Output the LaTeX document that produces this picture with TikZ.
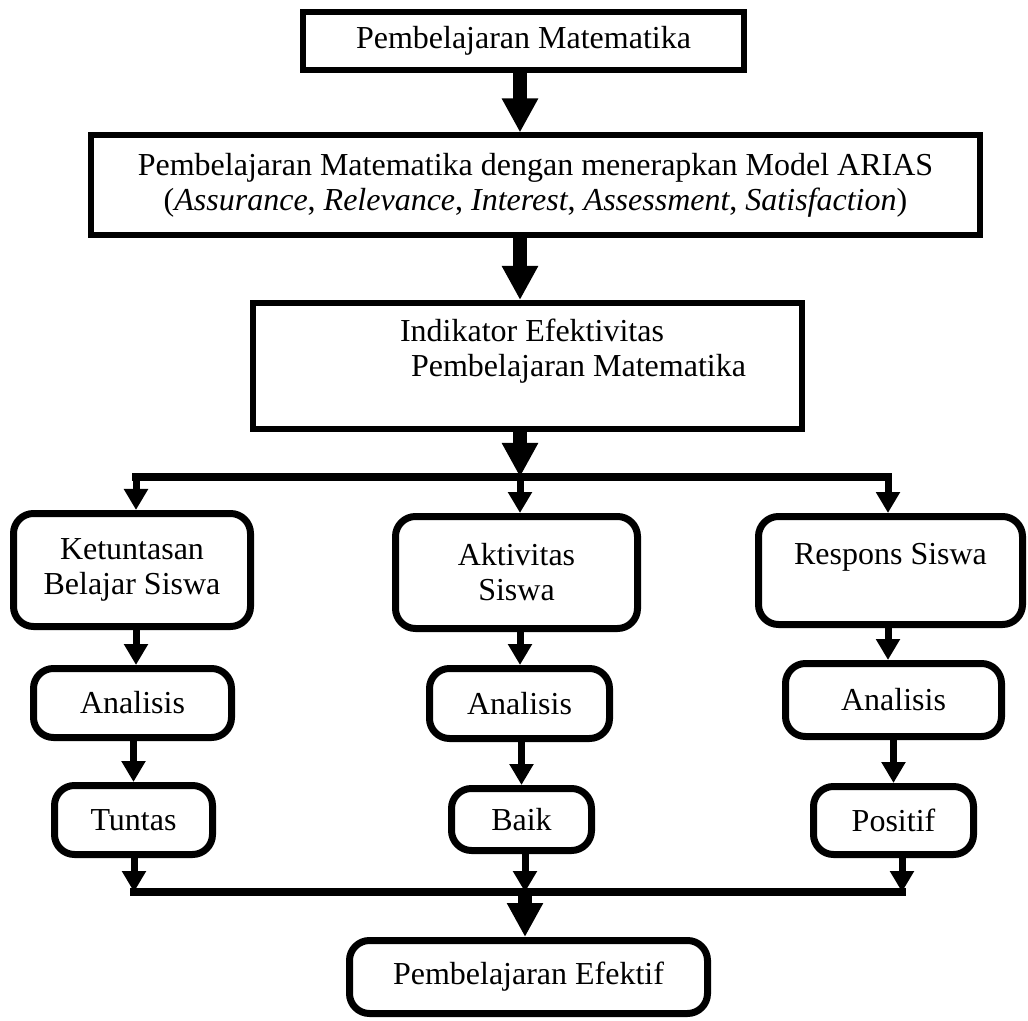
\documentclass[tikz,border=0pt]{standalone}
\usepackage{fontspec}
\setmainfont{Liberation Serif}
\usetikzlibrary{arrows.meta,positioning}
\tikzset{>=stealth}
\tikzset{
  box/.style={draw, line width=3pt, inner sep=0pt, align=center, font=\fontsize{16}{17.5}\selectfont},
  rbox/.style={box, line width=3.5pt, rounded corners=10pt},
  big/.style={line width=7pt, -{Triangle[width=17pt,length=17pt]}},
  small/.style={line width=3.5pt, -{Triangle[width=11.5pt,length=10.5pt]}},
  bar/.style={line width=4pt, line cap=rect}
}

\begin{document}
\begin{tikzpicture}[x=0.5pt,y=-0.5pt]
\useasboundingbox (0,0) rectangle (1028,1021);
\coordinate (spine) at (520,0);
\node[box, minimum width=220.5pt, minimum height=29pt] (pm) at (523.5,41) {Pembelajaran Matematika};
\node[box, minimum width=444.5pt, minimum height=50pt] (arias) at (535.5,185.5) {Pembelajaran Matematika dengan menerapkan Model ARIAS\\(\textit{Assurance}, \textit{Relevance}, \textit{Interest}, \textit{Assessment}, \textit{Satisfaction})};
\node[box, minimum width=274.5pt, minimum height=63pt] (ind) at (527.5,366) {};
\node[box, draw=none, align=left, anchor=west] (indtxt) at (397,351) {Indikator Efektivitas\\\hspace*{5.5pt}Pembelajaran Matematika};
\draw[big] (pm.south -| spine) -- (arias.north -| spine);
\draw[big] (arias.south -| spine) -- (ind.north -| spine);

\coordinate (sL) at (136,477);
\coordinate (sM) at (520,477);
\coordinate (sR) at (888,477);
\draw[big] (ind.south -| sM) -- (sM);
\draw[bar] (sL) -- (sR);

\node[rbox, minimum width=118.5pt, minimum height=56.5pt] (ket) at (132,570) {Ketuntasan\\Belajar Siswa};
\node[rbox, minimum width=121pt, minimum height=56pt] (akt) at (516.5,572.5) {Aktivitas\\Siswa};
\node[rbox, minimum width=132pt, minimum height=54pt] (res) at (890.5,570.5) {Respons Siswa\\[-6pt]\strut};
\draw[small] (sL) -- (ket.north -| sL);
\draw[small] (sM) -- (akt.north -| sM);
\draw[small] (sR) -- (res.north -| sR);

\node[rbox, minimum width=99pt, minimum height=34.5pt] (an1) at (132.5,703) {Analisis};
\node[rbox, minimum width=90pt, minimum height=35pt] (an2) at (519.5,703.5) {Analisis};
\node[rbox, minimum width=108pt, minimum height=36.5pt] (an3) at (893.5,700) {Analisis};
\draw[small] (ket.south -| sL) -- (an1.north -| sL);
\draw[small] (akt.south -| sM) -- (an2.north -| sM);
\draw[small] (res.south -| sR) -- (an3.north -| sR);

\node[rbox, minimum width=79pt, minimum height=34.5pt] (tun) at (133.5,820) {Tuntas};
\node[rbox, minimum width=70pt, minimum height=31pt] (baik) at (521.5,819.5) {Baik};
\node[rbox, minimum width=80pt, minimum height=34pt] (pos) at (893.5,820.5) {Positif};
\draw[small] (an1.south -| tun) -- (tun.north);
\draw[small] (an2.south -| baik) -- (baik.north);
\draw[small] (an3.south -| pos) -- (pos.north);

\coordinate (mL) at (134,892);
\coordinate (mM) at (525,892);
\coordinate (mR) at (902,892);
\draw[bar] (mL) -- (mR);
\draw[small] (tun.south -| mL) -- (mL);
\draw[small] (baik.south -| mM) -- (mM);
\draw[small] (pos.south -| mR) -- (mR);

\node[rbox, minimum width=179pt, minimum height=36.5pt] (efek) at (528.5,977) {Pembelajaran Efektif};
\draw[big] (mM) -- (efek.north -| mM);
\end{tikzpicture}
\end{document}
